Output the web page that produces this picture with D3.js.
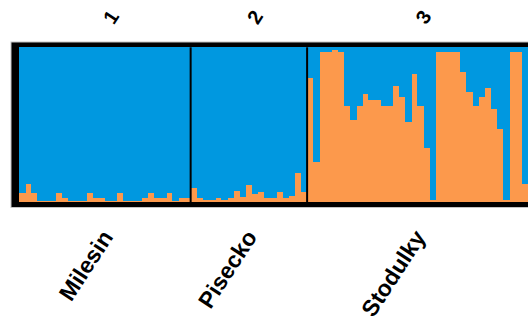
<!DOCTYPE html>
<html>
<head>
<meta charset="utf-8">
<script src="https://cdn.jsdelivr.net/npm/d3@7"></script>
<style>
  html, body { margin: 0; padding: 0; background: #fff; overflow: hidden; }
  svg { display: block; }
</style>
</head>
<body>
<div id="chart"></div>
<script>
// population names (bottom) and ids (top)
const popNames = ["Milesin", "Pisecko", "Stodulky"];
const popIds = ["1", "2", "3"];

// orange cluster membership per individual
const milesin = [0.062, 0.116, 0.062, 0.01, 0.01, 0.01, 0.062, 0.026, 0.01, 0.01,
  0.01, 0.062, 0.026, 0.026, 0.01, 0.01, 0.062, 0.01, 0.01, 0.01,
  0.026, 0.062, 0.026, 0.026, 0.062, 0.01, 0.026, 0.026];
const pisecko = [0.09, 0.026, 0.015, 0.015, 0.026, 0.015, 0.026, 0.075, 0.036, 0.11,
  0.052, 0.065, 0.026, 0.026, 0.065, 0.03, 0.043, 0.19, 0.065];
const stodulky = [0.80, 0.26, 0.97, 0.97, 0.98, 0.97, 0.62, 0.53, 0.62, 0.70,
  0.66, 0.66, 0.62, 0.62, 0.75, 0.68, 0.52, 0.83, 0.62, 0.35,
  0.015, 0.97, 0.97, 0.97, 0.97, 0.84, 0.71, 0.62, 0.68, 0.74,
  0.60, 0.47, 0.015, 0.97, 0.97, 0.12];

const popValues = [milesin, pisecko, stodulky];
const clusterKeys = ["orange", "blue"];
const clusterColors = {orange: "#FC994C", blue: "#0098E0"};

const width = 528, height = 322;
const barWidth = 6.13;
const frame = {left: 8, top: 5.3, bottom: 5.2};
const plot = {left: 19, top: 47.3, bottom: 202.3};

// flatten into one row per individual
const rows = [];
popValues.forEach((vals, p) => {
  vals.forEach((q, i) => rows.push({id: rows.length, pop: p, orange: q, blue: 1 - q}));
});

const plotRight = plot.left + rows.length * barWidth;

const x = d3.scaleBand()
  .domain(rows.map(d => d.id))
  .range([plot.left, plotRight])
  .paddingInner(0).paddingOuter(0);

const y = d3.scaleLinear()
  .domain([0, 1])
  .range([plot.bottom, plot.top]);

const svg = d3.select("#chart")
  .append("svg")
  .attr("width", width)
  .attr("height", height);

// black frame behind the bars
svg.append("rect")
  .attr("x", plot.left - frame.left)
  .attr("y", plot.top - frame.top)
  .attr("width", plotRight - plot.left + 2 * frame.left)
  .attr("height", plot.bottom - plot.top + frame.top + frame.bottom)
  .attr("fill", "#000")
  .attr("stroke", "#c4c4c4")
  .attr("stroke-width", 1);

const stacked = d3.stack().keys(clusterKeys)(rows);

svg.append("g")
  .selectAll("g")
  .data(stacked)
  .join("g")
  .attr("fill", d => clusterColors[d.key])
  .selectAll("rect")
  .data(d => d)
  .join("rect")
  .attr("x", d => x(d.data.id))
  .attr("width", x.bandwidth() + 0.4)
  .attr("y", d => y(d[1]))
  .attr("height", d => y(d[0]) - y(d[1]))
  .attr("shape-rendering", "crispEdges");

// population extents
const pops = popValues.map((vals, p) => {
  const members = rows.filter(r => r.pop === p);
  const x0 = x(members[0].id);
  const x1 = x(members[members.length - 1].id) + x.bandwidth();
  return {p, x0, x1, mid: (x0 + x1) / 2};
});

// separators between populations
svg.append("g")
  .selectAll("line")
  .data(pops.slice(1))
  .join("line")
  .attr("x1", d => d.x0).attr("x2", d => d.x0)
  .attr("y1", plot.top).attr("y2", plot.bottom)
  .attr("stroke", "#000")
  .attr("stroke-width", 2);

const font = "'Liberation Sans', Arial, sans-serif";

// top ids
svg.append("g")
  .selectAll("text")
  .data(pops)
  .join("text")
  .attr("transform", d => `translate(${d.mid + 6},${17}) rotate(-57)`)
  .attr("text-anchor", "middle")
  .attr("dominant-baseline", "central")
  .style("font-family", font)
  .style("font-weight", "bold")
  .style("font-size", "20px")
  .attr("fill", "#000")
  .text(d => popIds[d.p]);

// bottom names
svg.append("g")
  .selectAll("text")
  .data(pops)
  .join("text")
  .attr("transform", d => `translate(${d.mid + 9},${237}) rotate(-57)`)
  .attr("text-anchor", "end")
  .style("font-family", font)
  .style("font-weight", "bold")
  .style("font-size", "23px")
  .attr("fill", "#000")
  .text(d => popNames[d.p]);
</script>
</body>
</html>
